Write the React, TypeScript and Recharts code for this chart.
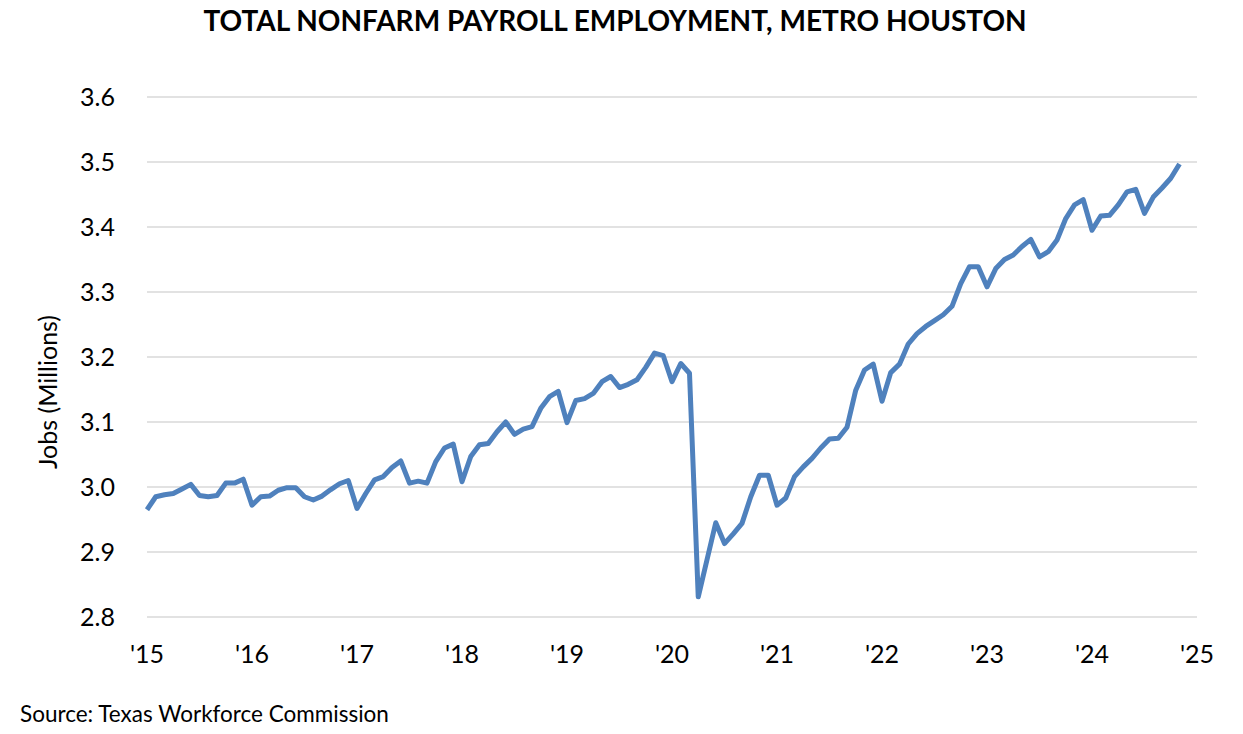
import { LineChart, Line, XAxis, YAxis, CartesianGrid } from 'recharts';

// monthly jobs (millions), Jan 2015 .. Nov 2024
const jobs2015 = [2.965, 2.985, 2.988, 2.99, 2.997, 3.004, 2.987, 2.985, 2.987, 3.006, 3.006, 3.012];
const jobs2016 = [2.972, 2.985, 2.986, 2.995, 2.999, 2.999, 2.985, 2.98, 2.986, 2.996, 3.005, 3.01];
const jobs2017 = [2.967, 2.99, 3.011, 3.016, 3.03, 3.04, 3.006, 3.009, 3.006, 3.039, 3.06, 3.066];
const jobs2018 = [3.008, 3.047, 3.065, 3.067, 3.085, 3.1, 3.081, 3.089, 3.093, 3.121, 3.139, 3.147];
const jobs2019 = [3.099, 3.133, 3.136, 3.144, 3.162, 3.17, 3.153, 3.158, 3.165, 3.184, 3.206, 3.202];
const jobs2020 = [3.162, 3.19, 3.175, 2.831, 2.888, 2.945, 2.913, 2.928, 2.944, 2.985, 3.018, 3.018];
const jobs2021 = [2.972, 2.983, 3.016, 3.031, 3.044, 3.06, 3.074, 3.075, 3.092, 3.149, 3.18, 3.189];
const jobs2022 = [3.132, 3.176, 3.189, 3.22, 3.236, 3.247, 3.256, 3.265, 3.278, 3.313, 3.339, 3.339];
const jobs2023 = [3.308, 3.336, 3.35, 3.357, 3.37, 3.381, 3.354, 3.362, 3.38, 3.413, 3.434, 3.442];
const jobs2024 = [3.395, 3.417, 3.418, 3.434, 3.454, 3.458, 3.421, 3.446, 3.46, 3.475, 3.497];

const yearTicks = [0, 12, 24, 36, 48, 60, 72, 84, 96, 108, 120];
const yearLabels = ["'15", "'16", "'17", "'18", "'19", "'20", "'21", "'22", "'23", "'24", "'25"];
const jobTicks = [2.8, 2.9, 3.0, 3.1, 3.2, 3.3, 3.4, 3.5, 3.6];

const allJobs = [
  ...jobs2015, ...jobs2016, ...jobs2017, ...jobs2018, ...jobs2019,
  ...jobs2020, ...jobs2021, ...jobs2022, ...jobs2023, ...jobs2024,
];
const data = allJobs.map((v, i) => ({ month: i, jobs: v }));

const FONT = 'Lato, "Open Sans", sans-serif';

export default function App() {
  return (
    <div style={{ position: 'absolute', left: 0, top: 0, width: 1243, height: 734, background: '#fff', fontFamily: FONT }}>
      <div style={{ position: 'absolute', top: 3, left: 0, width: 1230, textAlign: 'center', fontWeight: 700, fontSize: 28, color: '#000' }}>
        TOTAL NONFARM PAYROLL EMPLOYMENT, METRO HOUSTON
      </div>
      <div
        style={{
          position: 'absolute', left: 47, top: 392, fontSize: 25, color: '#000', whiteSpace: 'nowrap',
          transform: 'translate(-50%, -50%) rotate(-90deg)',
        }}
      >
        Jobs (Millions)
      </div>
      <div style={{ position: 'absolute', left: 20, top: 700, fontSize: 22.5, color: '#000' }}>
        Source: Texas Workforce Commission
      </div>
      <div style={{ position: 'absolute', left: 0, top: 0 }}>
        <LineChart width={1243} height={734} data={data} margin={{ top: 97, right: 46, bottom: 0, left: 0 }}>
          <CartesianGrid vertical={false} stroke="#d9d9d9" strokeWidth={1.5} />
          <XAxis
            type="number"
            dataKey="month"
            domain={[0, 120]}
            ticks={yearTicks}
            tickFormatter={(v: number) => yearLabels[yearTicks.indexOf(v)]}
            axisLine={false}
            tickLine={false}
            tickSize={0}
            tickMargin={28}
            height={117}
            interval={0}
            tick={{ fill: '#000', fontSize: 25, fontFamily: FONT }}
          />
          <YAxis
            domain={[2.8, 3.6]}
            ticks={jobTicks}
            tickFormatter={(v: number) => v.toFixed(1)}
            axisLine={false}
            tickLine={false}
            tickSize={0}
            tickMargin={32}
            width={147}
            interval={0}
            tick={{ fill: '#000', fontSize: 25, fontFamily: FONT }}
          />
          <Line
            type="linear"
            dataKey="jobs"
            stroke="#4f81bd"
            strokeWidth={5}
            dot={false}
            strokeLinejoin="round"
            isAnimationActive={false}
          />
        </LineChart>
      </div>
    </div>
  );
}
